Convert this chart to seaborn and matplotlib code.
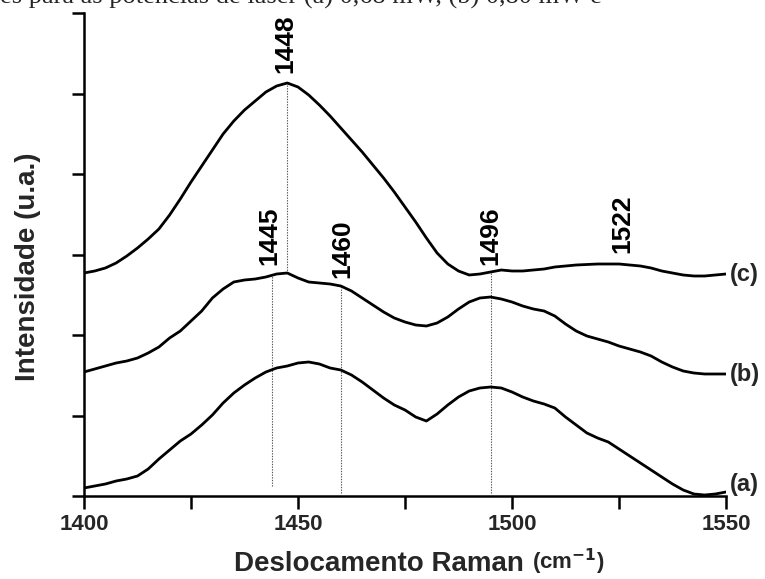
import numpy as np
import pandas as pd
import matplotlib
matplotlib.use("Agg")
import matplotlib.pyplot as plt
import seaborn as sns

# ---------------- data ----------------
shift = [1400, 1402.5, 1405, 1407.5, 1410, 1412.5, 1415, 1417.5, 1420, 1422.5,
         1425, 1427.5, 1430, 1432.5, 1435, 1437.5, 1440, 1442.5, 1445, 1447.5,
         1450, 1452.5, 1455, 1457.5, 1460, 1462.5, 1465, 1467.5, 1470, 1472.5,
         1475, 1477.5, 1480, 1482.5, 1485, 1487.5, 1490, 1492.5, 1495, 1497.5,
         1500, 1502.5, 1505, 1507.5, 1510, 1512.5, 1515, 1517.5, 1520, 1522.5,
         1525, 1527.5, 1530, 1532.5, 1535, 1537.5, 1540, 1542.5, 1545, 1547.5,
         1550]

spec_a = [8, 10, 12, 15, 17, 20, 27, 37, 46, 55,
          62, 71, 81, 93, 103, 111, 118, 124, 128, 130,
          133, 134, 132, 128, 126, 121, 114, 106, 98, 91,
          86, 79, 75, 82, 91, 99, 105, 108, 109, 108,
          104, 99, 95, 92, 88, 79, 71, 63, 58, 54,
          47, 40, 33, 26, 19, 12, 6, 2, 1, 2,
          4]

spec_b = [124, 127, 130, 133, 135, 138, 143, 149, 158, 165,
          175, 185, 198, 207, 214, 216, 217, 219, 222, 223,
          218, 214, 213, 212, 210, 205, 198, 191, 184, 178,
          174, 171, 170, 173, 179, 187, 194, 198, 199, 197,
          194, 190, 187, 185, 180, 172, 165, 160, 157, 154,
          150, 147, 144, 140, 134, 129, 125, 123, 122, 122,
          122]

spec_c = [223, 225, 228, 233, 240, 248, 257, 267, 281, 297,
          314, 330, 346, 362, 375, 386, 395, 404, 410, 413,
          409, 401, 391, 380, 368, 356, 344, 331, 318, 304,
          289, 274, 258, 243, 232, 225, 221, 222, 224, 226,
          225, 225, 226, 227, 229, 230, 231, 231.5, 232, 232,
          232, 231, 230, 228, 225, 223, 221, 220, 220, 221,
          222]

series_names = ["(a)", "(b)", "(c)"]

peak_labels = ["1448", "1445", "1460", "1496", "1522"]
peak_text_x = [1447.0, 1443.2, 1460.3, 1494.9, 1525.7]
peak_text_y = [423, 231, 218, 231, 243]

guide_x = [1447.5, 1444.0, 1460.0, 1495.0]
guide_from = ["(c)", "(b)", "(b)", "(c)"]
guide_to = ["(b)", None, None, None]
guide_bottom = [None, 10, 3, 3]

xticks_major = [1400, 1450, 1500, 1550]
xticks_minor = [1425, 1475, 1525]

# ---------------- figure ----------------
sns.set_theme(style="ticks")
plt.rcParams["font.family"] = ["Liberation Sans", "DejaVu Sans"]
plt.rcParams["font.weight"] = "bold"

fig = plt.figure(figsize=(7.65, 5.79), dpi=100)
ax = fig.add_axes([84 / 765, 1 - 496 / 579, (726 - 84) / 765, (496 - 13) / 579])

df = pd.DataFrame({
    "shift": shift * 3,
    "intensity": spec_a + spec_b + spec_c,
    "serie": [series_names[0]] * len(shift) + [series_names[1]] * len(shift)
             + [series_names[2]] * len(shift),
})

sns.lineplot(data=df, x="shift", y="intensity", units="serie", estimator=None,
             color="black", linewidth=2.0, ax=ax, sort=False, legend=False)
for ln in ax.lines:
    ln.set_solid_joinstyle("round")
    ln.set_solid_capstyle("round")

curves = dict(zip(series_names, [np.array(spec_a), np.array(spec_b), np.array(spec_c)]))
xs = np.array(shift)

# guide dotted lines
for gx, gf, gt, gb in zip(guide_x, guide_from, guide_to, guide_bottom):
    ytop = np.interp(gx, xs, curves[gf])
    ybot = np.interp(gx, xs, curves[gt]) if gt is not None else gb
    ax.plot([gx, gx], [ybot, ytop], linestyle=(0, (1.2, 1.2)), color="#555555",
            linewidth=0.8, zorder=1)

# peak labels
for lab, tx, ty in zip(peak_labels, peak_text_x, peak_text_y):
    ax.text(tx, ty, lab, rotation=90, ha="center", va="bottom",
            fontsize=19, fontweight="bold", color="black")

# curve labels
ax.text(1550.8, curves["(c)"][-1], "(c)", ha="left", va="center",
        fontsize=17, fontweight="bold", clip_on=False)
ax.text(1550.8, curves["(b)"][-1], "(b)", ha="left", va="center",
        fontsize=17, fontweight="bold", clip_on=False)
ax.text(1550.8, 0, "(a)", ha="left", va="bottom",
        fontsize=17, fontweight="bold", clip_on=False)

ax.set_xlim(1400, 1550)
ax.set_ylim(0, 483)
ax.set_xticks(xticks_major)
ax.set_xticks(xticks_minor, minor=True)
ax.set_xticklabels([str(t) for t in xticks_major], fontsize=16, fontweight="bold")
ax.set_yticks(np.linspace(0, 483, 7))
ax.set_yticklabels([])
ax.tick_params(which="both", direction="out", length=9, width=1.8, color="black", pad=4)
for s in ["left", "bottom"]:
    ax.spines[s].set_linewidth(1.8)
    ax.spines[s].set_color("black")
sns.despine(ax=ax)
ax.set_xlabel("")
ax.set_ylabel("")

# axis titles
fig.text(28 / 765, 1 - 267 / 579, "Intensidade (u.a.)", rotation=90, ha="center",
         va="center", fontsize=20, fontweight="bold")
t = fig.text(234 / 765, 1 - 571 / 579, "Deslocamento Raman ", ha="left", va="baseline",
             fontsize=20, fontweight="bold")
ax.annotate("(cm$^{\\mathbf{-1}}$)", xy=(1.0, 0.0), xycoords=t, ha="left", va="bottom",
            fontsize=16, fontweight="bold", annotation_clip=False)

# cut caption line at the top
fig.text(0.0, 1 - 4 / 579, "es para as potências de laser (a) 0,68 mW, (b) 0,80 mW e",
         ha="left", va="baseline", fontsize=19, family=["Liberation Serif", "DejaVu Serif"],
         fontweight="normal")

fig.savefig("out.png", dpi=100)
